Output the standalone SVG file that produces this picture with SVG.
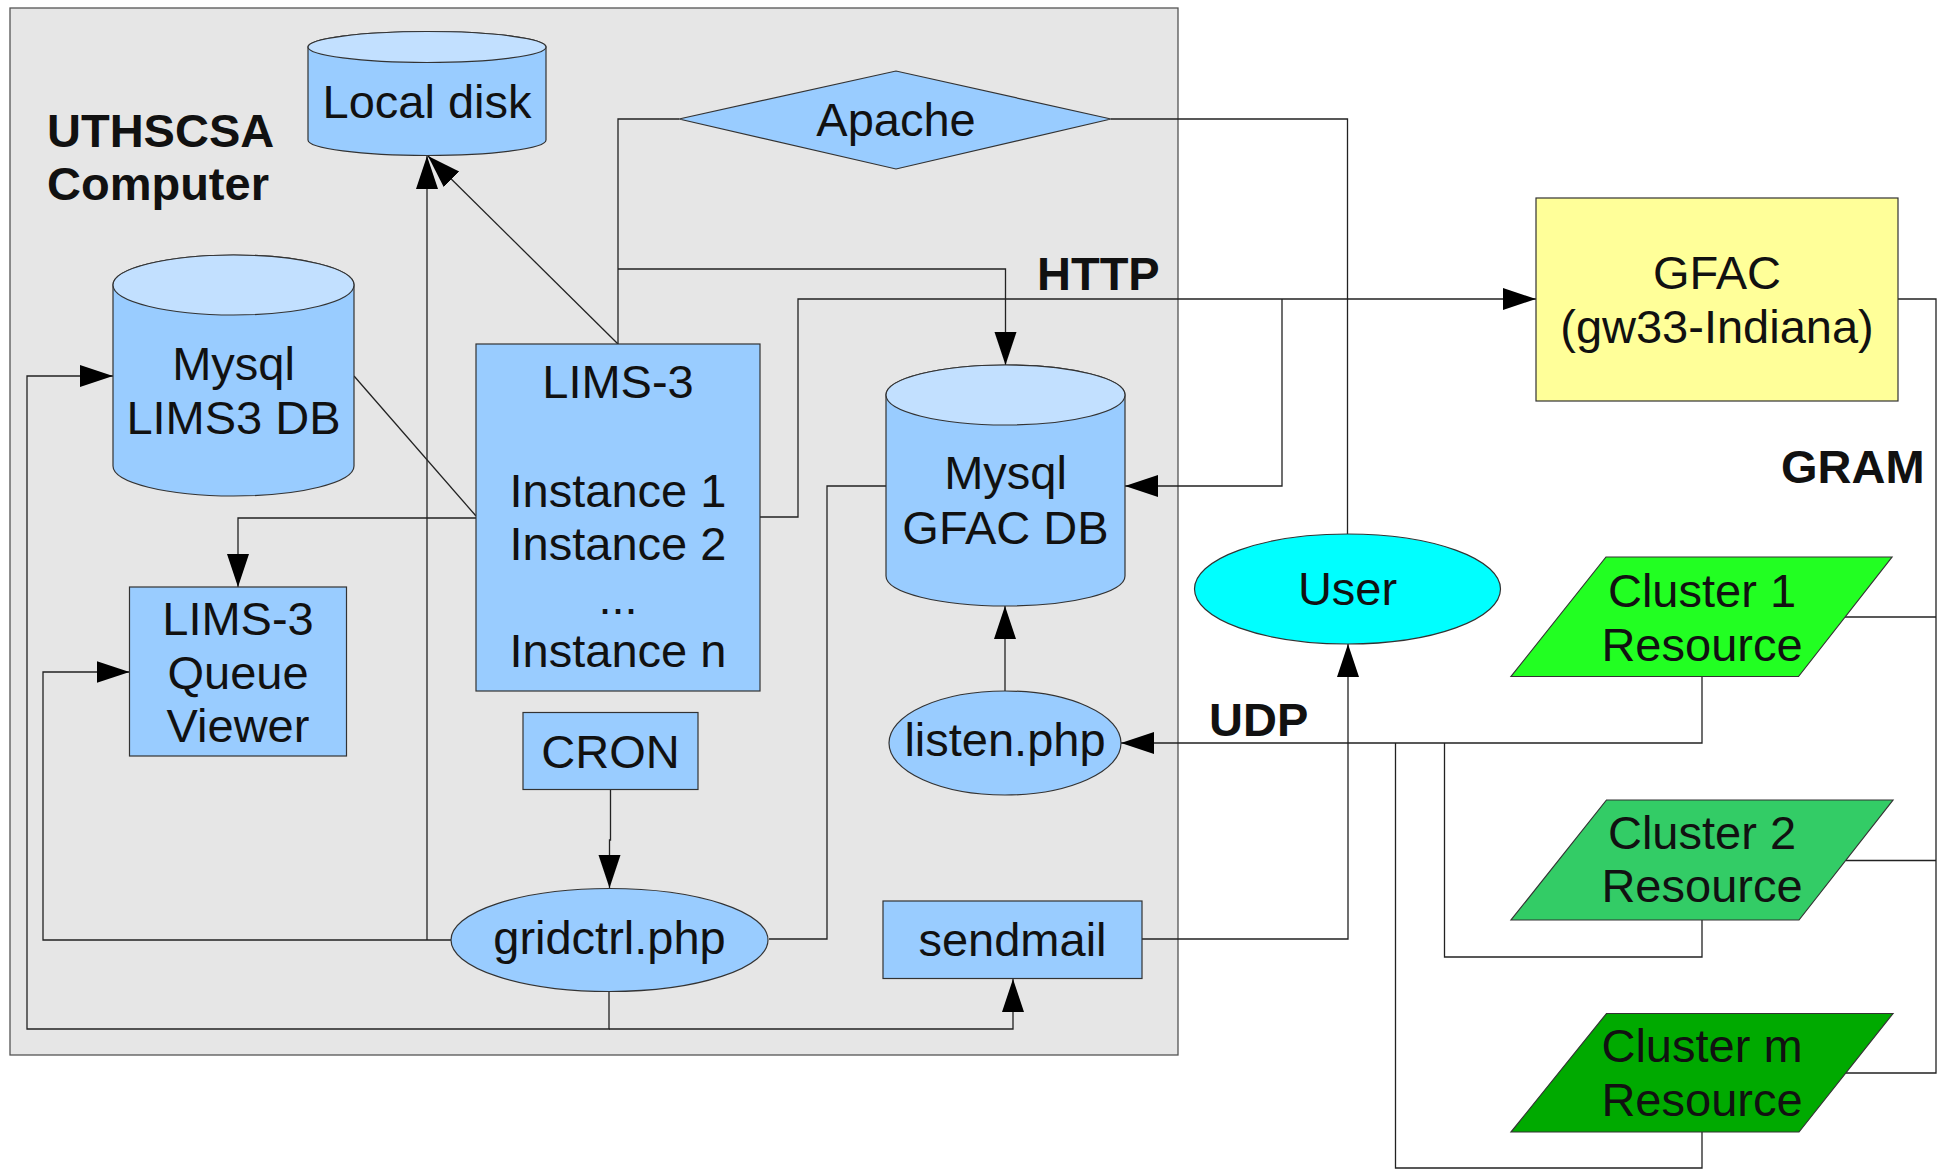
<svg xmlns="http://www.w3.org/2000/svg" width="1946" height="1170" viewBox="0 0 1946 1170">
<defs>
<style>
.t{font-family:"Liberation Sans",Arial,sans-serif;font-size:47px;fill:#111;text-anchor:middle}
.b{font-family:"Liberation Sans",Arial,sans-serif;font-size:47px;font-weight:bold;fill:#111}
.n{fill:#99ccff;stroke:#333;stroke-width:1.2}
.top{fill:#c2e0ff;stroke:#333;stroke-width:1.2}
.c{fill:none;stroke:#222;stroke-width:1.3}
</style>
<marker id="ah" markerUnits="userSpaceOnUse" markerWidth="34" markerHeight="24" refX="33" refY="11" orient="auto" viewBox="0 0 34 24">
<path d="M0,0 L33,11 L0,22 z" fill="#000"/>
</marker>
</defs>
<rect x="0" y="0" width="1946" height="1170" fill="#fff"/>
<g id="container">
<rect x="10" y="8" width="1168" height="1047" fill="#e6e6e6" stroke="#555" stroke-width="1.3"/>
<text class="b" x="47" y="147">UTHSCSA</text>
<text class="b" x="47" y="200">Computer</text>
</g>
<g id="connectors">
<path class="c" d="M679,119 H618 V344"/>
<path class="c" d="M618,269 H1005.5 V365" marker-end="url(#ah)"/>
<path class="c" d="M618,344 L428,156" marker-end="url(#ah)"/>
<path class="c" d="M427,940 V156" marker-end="url(#ah)"/>
<path class="c" d="M354,376 L476,516"/>
<path class="c" d="M476,518 H238 V587" marker-end="url(#ah)"/>
<path class="c" d="M451,940 H43 V672 H129.5" marker-end="url(#ah)"/>
<path class="c" d="M609,991 V1029 H27 V376 H113" marker-end="url(#ah)"/>
<path class="c" d="M609,1029 H1013 V979" marker-end="url(#ah)"/>
<path class="c" d="M610.5,790 V840 H609.5 V888" marker-end="url(#ah)"/>
<path class="c" d="M769,939 H827 V486 H886"/>
<path class="c" d="M760,517 H798 V299 H1536" marker-end="url(#ah)"/>
<path class="c" d="M1282,299 V486 H1125" marker-end="url(#ah)"/>
<path class="c" d="M1111,119 H1347.5 V534"/>
<path class="c" d="M1142,939 H1348 V644" marker-end="url(#ah)"/>
<path class="c" d="M1005,691 V606" marker-end="url(#ah)"/>
<path class="c" d="M1702,676.5 V743 H1121" marker-end="url(#ah)"/>
<path class="c" d="M1702,920 V957 H1444.5 V743"/>
<path class="c" d="M1702,1132 V1168 H1395.5 V743"/>
<path class="c" d="M1898,299 H1936 V1073 H1846"/>
<path class="c" d="M1845,617 H1936"/>
<path class="c" d="M1846,860.5 H1936"/>
</g>
<g id="local-disk">
<path class="n" d="M308,47 V140 A119,15.5 0 0 0 546,140 V47 A119,15.5 0 0 0 308,47 Z"/>
<ellipse class="top" cx="427" cy="47" rx="119" ry="15.5"/>
<text class="t" x="427" y="118">Local disk</text>
</g>
<g id="apache">
<polygon class="n" points="679,119 896,71 1111,119 896,169"/>
<text class="t" x="896" y="136">Apache</text>
</g>
<g id="mysql-lims3-db">
<path class="n" d="M113,285 V466 A120.5,30 0 0 0 354,466 V285 A120.5,30 0 0 0 113,285 Z"/>
<ellipse class="top" cx="233.5" cy="285" rx="120.5" ry="30"/>
<text class="t" x="233.5" y="380">Mysql</text>
<text class="t" x="233.5" y="434">LIMS3 DB</text>
</g>
<g id="lims3">
<rect class="n" x="476" y="344" width="284" height="347"/>
<text class="t" x="618" y="398">LIMS-3</text>
<text class="t" x="618" y="507">Instance 1</text>
<text class="t" x="618" y="560">Instance 2</text>
<text class="t" x="618" y="614">...</text>
<text class="t" x="618" y="667">Instance n</text>
</g>
<g id="mysql-gfac-db">
<path class="n" d="M886,395 V576 A119.5,30 0 0 0 1125,576 V395 A119.5,30 0 0 0 886,395 Z"/>
<ellipse class="top" cx="1005.5" cy="395" rx="119.5" ry="30"/>
<text class="t" x="1005.5" y="489">Mysql</text>
<text class="t" x="1005.5" y="544">GFAC DB</text>
</g>
<g id="queue-viewer">
<rect class="n" x="129.5" y="587" width="217" height="169"/>
<text class="t" x="238" y="634.5">LIMS-3</text>
<text class="t" x="238" y="689">Queue</text>
<text class="t" x="238" y="742">Viewer</text>
</g>
<g id="cron">
<rect class="n" x="523" y="712.5" width="175" height="77"/>
<text class="t" x="610.5" y="768">CRON</text>
</g>
<g id="gridctrl">
<ellipse class="n" cx="609.5" cy="940" rx="158.5" ry="51.5"/>
<text class="t" x="609.5" y="954">gridctrl.php</text>
</g>
<g id="listen">
<ellipse class="n" cx="1005" cy="743" rx="116" ry="52"/>
<text class="t" x="1005" y="756">listen.php</text>
</g>
<g id="sendmail">
<rect class="n" x="883" y="901" width="259" height="77.5"/>
<text class="t" x="1012.5" y="956">sendmail</text>
</g>
<g id="user">
<ellipse cx="1347.5" cy="589" rx="153" ry="55" fill="#00ffff" stroke="#333" stroke-width="1.2"/>
<text class="t" x="1347.5" y="605">User</text>
</g>
<g id="gfac">
<rect x="1536" y="198" width="362" height="203" fill="#ffff99" stroke="#333" stroke-width="1.2"/>
<text class="t" x="1717" y="288.5">GFAC</text>
<text class="t" x="1717" y="343">(gw33-Indiana)</text>
</g>
<g id="labels">
<text class="b" x="1037" y="290">HTTP</text>
<text class="b" x="1781" y="483">GRAM</text>
<text class="b" x="1209" y="736">UDP</text>
</g>
<g id="cluster1">
<polygon points="1606,557 1892,557 1798.5,676.5 1511,676.5" fill="#22ff22" stroke="#333" stroke-width="1.2"/>
<text class="t" x="1702" y="606.5">Cluster 1</text>
<text class="t" x="1702" y="660.5">Resource</text>
</g>
<g id="cluster2">
<polygon points="1606.5,800 1893,800 1799,920 1511,920" fill="#33cc66" stroke="#333" stroke-width="1.2"/>
<text class="t" x="1702" y="848.5">Cluster 2</text>
<text class="t" x="1702" y="902">Resource</text>
</g>
<g id="clusterm">
<polygon points="1606.5,1013.5 1893,1013.5 1799,1132 1511,1132" fill="#00aa00" stroke="#333" stroke-width="1.2"/>
<text class="t" x="1702" y="1062">Cluster m</text>
<text class="t" x="1702" y="1115.5">Resource</text>
</g>
</svg>
